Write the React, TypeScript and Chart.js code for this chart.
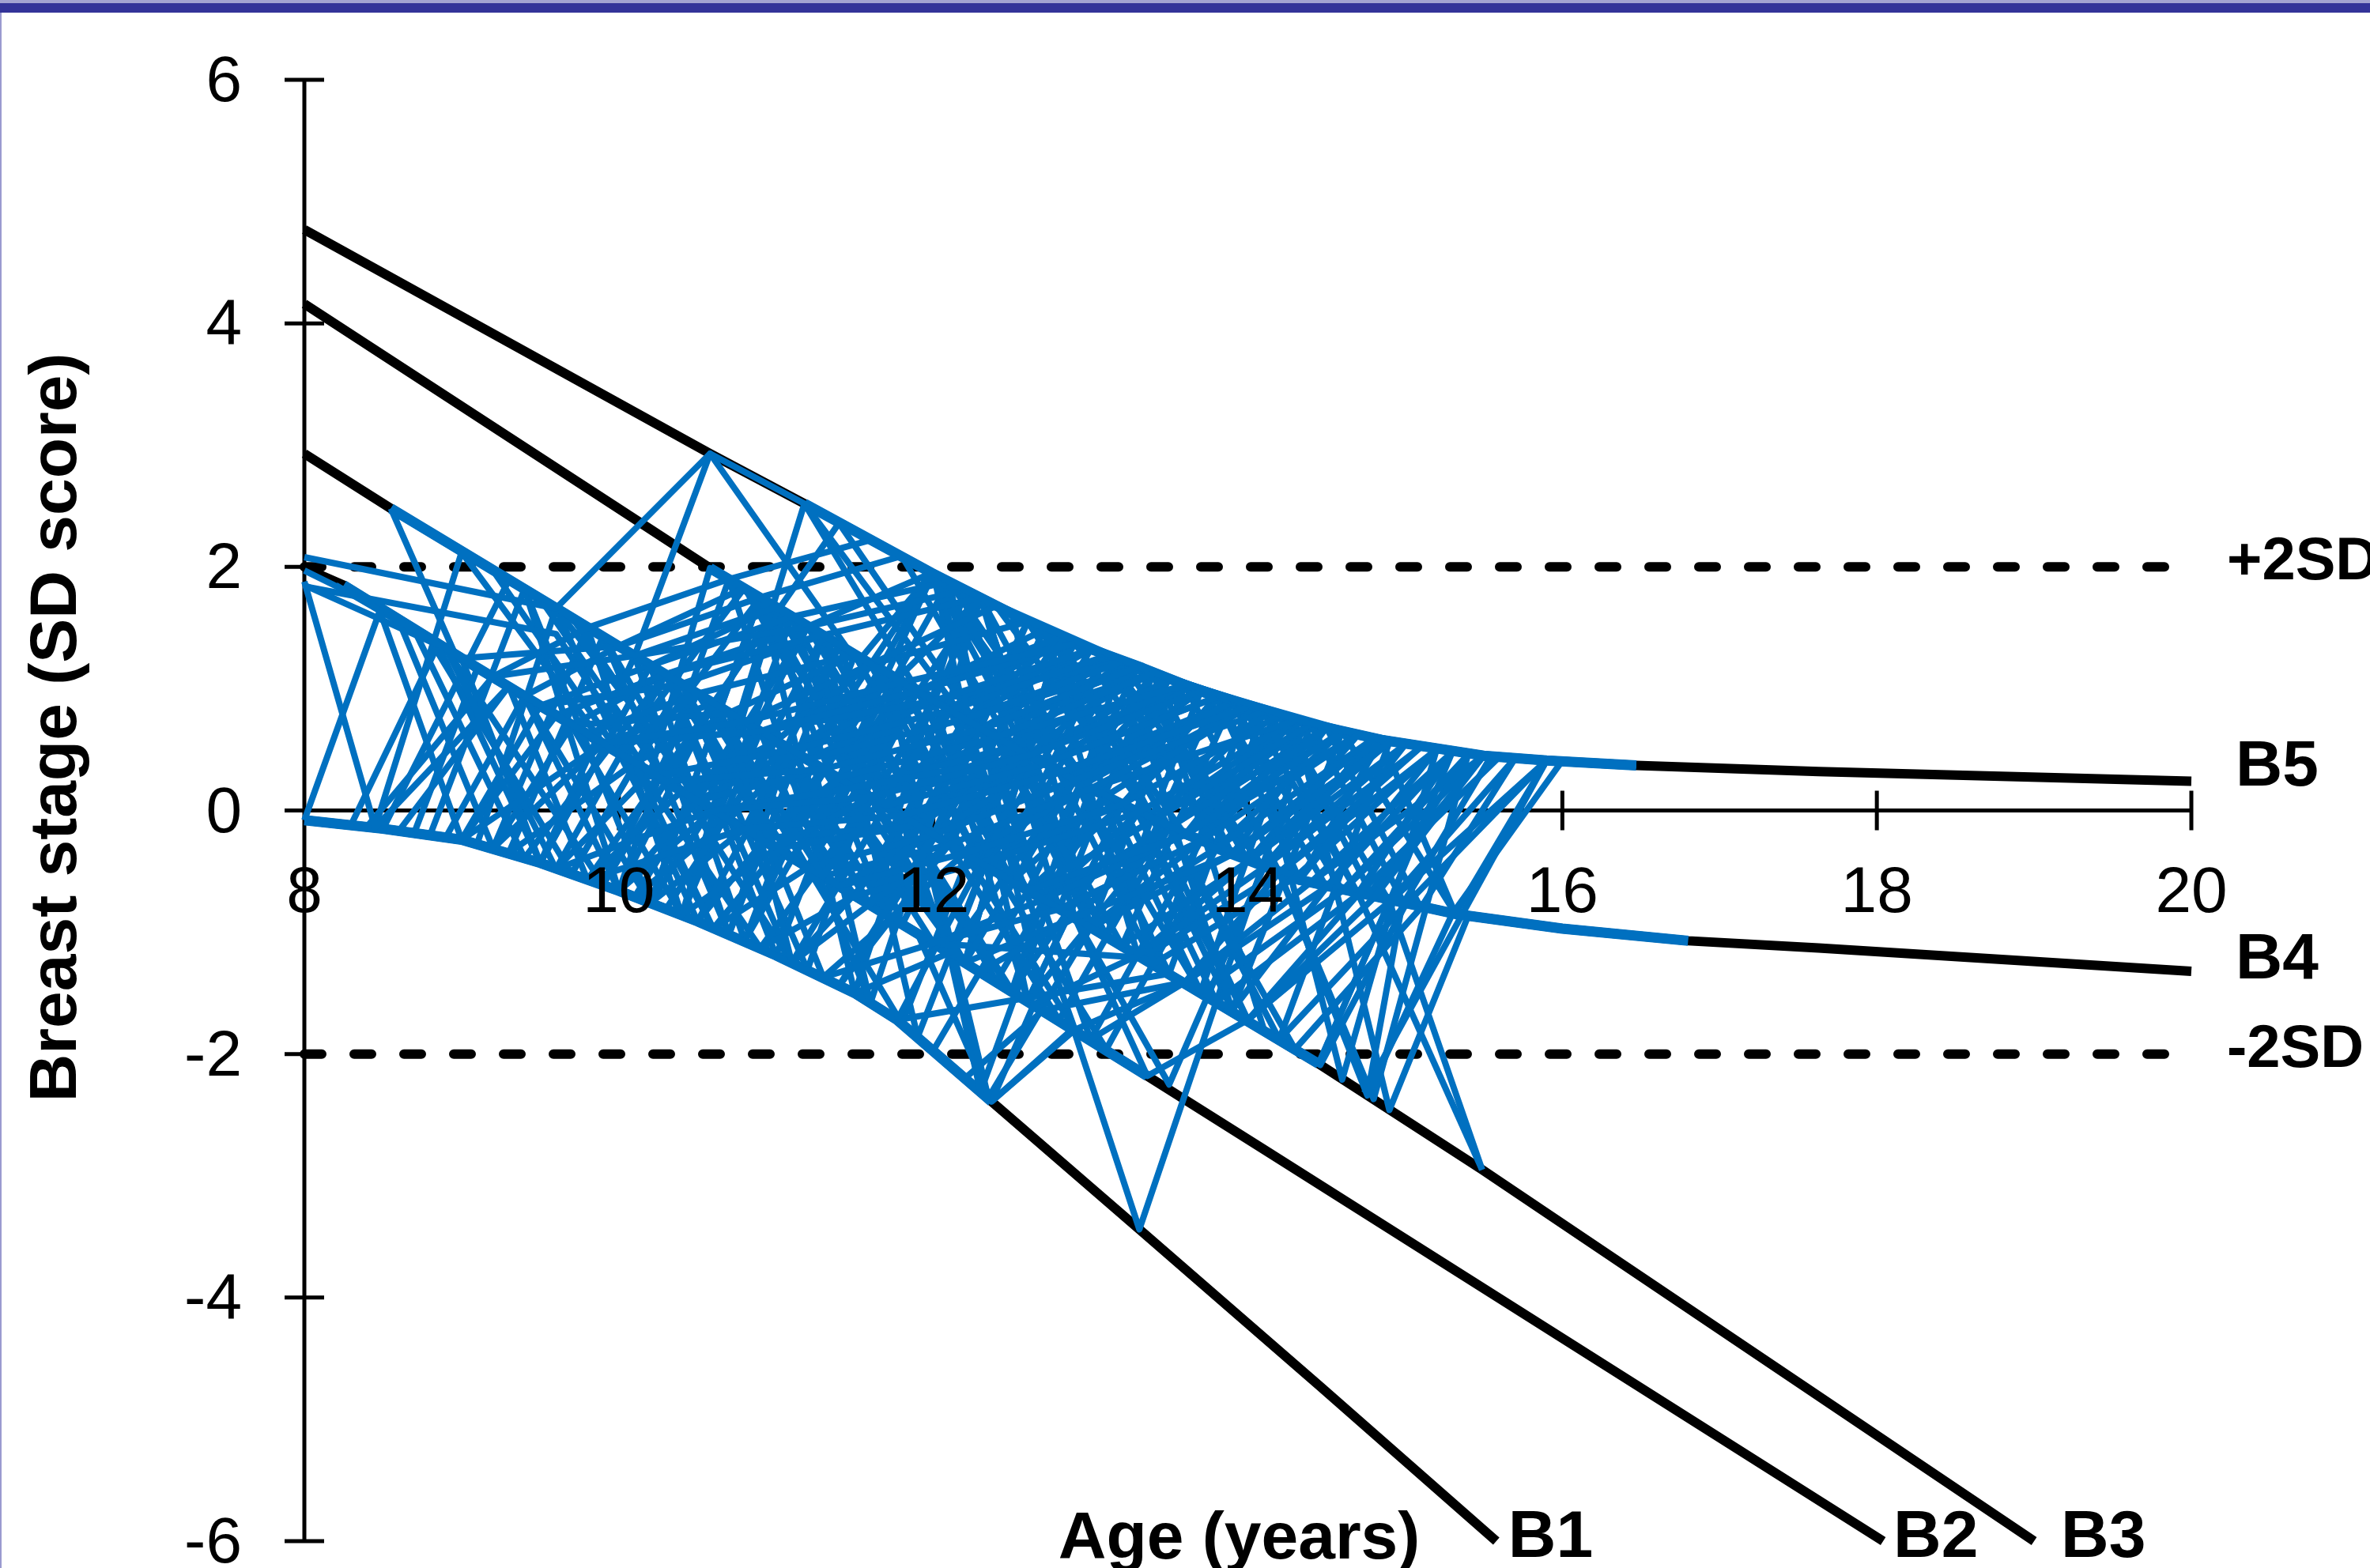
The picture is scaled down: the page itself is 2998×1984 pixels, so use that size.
import React, { useEffect, useRef } from "react";
import { Chart, registerables } from "chart.js";

Chart.register(...registerables);

// ---------- axes ----------
const xTicks = [8, 10, 12, 14, 16, 18, 20];
const yTicks = [-6, -4, -2, 0, 2, 4, 6];
const xTitle = "Age (years)";
const yTitle = "Breast stage (SD score)";

// ---------- reference SD lines ----------
const sdLevels = [2, -2];
const sdLabels = ["+2SD", "-2SD"];

// ---------- breast stage curves (age, SD score) ----------
const stageNames = ["B1", "B2", "B3", "B4", "B5"];
const stageB1 = [[8, -0.08], [8.5, -0.15], [9, -0.24], [9.5, -0.43], [10, -0.66], [10.5, -0.91], [11, -1.19], [11.5, -1.5], [11.77, -1.72], [12.37, -2.39], [13.31, -3.44], [14.46, -4.73], [15.58, -6]];
const stageB2 = [[8, 1.99], [8.25, 1.85], [9, 1.25], [10, 0.47], [11, -0.31], [12, -1.09], [13.36, -2.18], [14.11, -2.79], [18.04, -6]];
const stageB3 = [[8, 2.93], [8.55, 2.48], [9.59, 1.67], [10.1, 1.27], [11, 0.57], [12, -0.2], [13, -0.96], [14.45, -2.08], [15.49, -2.95], [19, -6]];
const stageB4 = [[8, 4.16], [10.58, 1.99], [11.09, 1.6], [11.54, 1.25], [12.21, 0.76], [13, 0.18], [13.5, -0.14], [14.33, -0.57], [15.32, -0.85], [16, -0.97], [16.8, -1.07], [17.63, -1.13], [20, -1.32]];
const stageB5 = [[8, 4.77], [10.58, 2.93], [11.18, 2.52], [11.99, 1.95], [12.8, 1.42], [13.33, 1.17], [13.8, 0.93], [14.3, 0.74], [14.85, 0.58], [15.5, 0.45], [15.9, 0.41], [16.47, 0.37], [17.63, 0.32], [20, 0.24]];
const stageCurves = [stageB1, stageB2, stageB3, stageB4, stageB5];

// ---------- individual girls (age, SD score) ----------
const earlyGirls = [
  [[8, 2.08], [9.6, 1.66], [10.58, 2.93], [11.47, 1.3], [12.4, 0.6], [13.4, 1.13], [14.4, 0.71]],
  [[8, 1.88], [8.45, -0.14], [9.3, 1.02], [10.3, 0.24], [11.3, 0.34], [12.3, 0.67], [13.3, 1.18]],
  [[8, -0.08], [8.48, 1.64], [9, -0.24], [9.9, 0.55], [10.8, 0.73], [11.8, 1.05], [12.9, 1.37]],
  [[8, 1.97], [8.3, 1.78], [9.2, 1.1], [9.8, 1.5], [10.7, 1.9], [11.6, 2.22], [12.5, 1.61], [13.5, 1.08]],
  [[8.55, 2.48], [8.96, 1.28], [9.9, 0.55], [10.9, 0.65], [11.9, 0.98], [12.9, 1.37]],
  [[8.55, 2.48], [9.59, 1.67], [10.1, 1.27], [11, 1.67], [12, 0.9], [13, 1.32]],
  [[8, 1.85], [8.9, 1.33], [9.6, -0.48], [10.6, 0], [11.6, 0.11], [12.6, 0.45], [13.7, 0.98]],
  [[8.3, -0.11], [8.85, 1.36], [9.5, -0.43], [10.2, 1.19], [11.2, 0.42], [12.2, 0.75], [13.2, 1.22]],
  [[8.4, -0.13], [9.2, 1.1], [10, 0.47], [10.5, 0.96], [11.5, 1.28], [12.7, 0.38], [13.8, 0.93]],
  [[8.6, -0.17], [9.3, 1.02], [9.8, -0.57], [10.8, -0.15], [11.8, -0.04], [12.8, 0.31], [14, 0.85]],
  [[8.5, -0.15], [9.3, 1.89], [10.3, 1.12], [11.3, 1.44], [12.3, 1.75], [13.3, 1.18]],
  [[8.2, 1.85], [9.2, 1.1], [10.1, 1.27], [11.2, 1.51], [12.2, 1.81], [13.1, 1.27]],
  [[8, 1.84], [9.6, 1.45], [10.2, 0.28], [11.1, 0.5], [12.1, 0.82], [13.1, 1.27]],
  [[8.9, -0.22], [9.4, 0.94], [10, -0.66], [10.6, 0.88], [11.3, -0.54], [12.1, 0.83], [13, 1.32]],
  [[8.45, -0.14], [9, 2.12], [9.9, 0.55], [10.9, 0.65], [12, 0.9], [13.2, 1.22]],
  [[8.7, -0.18], [9.1, 1.17], [10.1, 0.39], [10.6, -0.97], [11.4, 0.27], [12.4, 0.6], [13.6, 1.03]],
  [[9, -0.24], [9.5, 0.86], [10.4, 1.04], [11, -0.31], [11.9, 0.98], [12.9, 0.25], [14.1, 0.81]],
  [[9.1, -0.27], [9.6, 1.66], [10.6, 0], [11.5, 0.19], [12.6, 0.45], [13.6, 1.03], [14.6, 0.65]],
  [[9.2, -0.31], [9.7, 0.7], [10.7, 0.8], [11.1, -1.25], [12.1, -0.28], [13, 0.18], [14, 0.85]],
  [[9.3, -0.35], [9.9, 1.43], [10.9, 0.65], [11.9, 0.98], [12.9, 1.37], [13.9, 0.89]],
  [[9, 1.25], [10, 1.35], [10.8, 1.83], [11.7, 0.04], [12.7, 0.38], [13.8, 0.93]],
  [[9.4, -0.39], [10, -0.66], [10.6, 0], [11.4, -0.62], [12.2, -0.35], [13.2, 0.05], [14.2, 0.78]],
  [[9.5, -0.43], [10.2, 1.19], [11.1, 1.59], [12.1, 1.88], [13, 0.18], [14.3, 0.74]],
  [[9.6, -0.48], [10.2, 0.31], [11, -0.31], [11.6, 0.11], [12.6, -0.66], [13.6, -0.2], [14.6, 0.65]],
  [[9.7, -0.52], [10.4, 1.04], [11.3, 1.44], [12.2, 0.75], [13.3, 1.18], [14.2, 0.77]],
];

const midGirls = [
  [[10, -0.66], [10.5, 0.08], [11.3, 0.34], [12, -1.09], [12.8, -0.81], [13.7, -0.25], [14.7, 0.62]],
  [[10.1, -0.71], [10.8, 0.73], [11.6, 1.2], [12.3, -0.43], [13.3, -0.02], [14.3, 0.74]],
  [[10.2, -0.76], [10.8, -0.15], [11.4, 1.36], [12.4, 0.6], [13.4, 1.13], [14.4, 0.71]],
  [[10.3, -0.81], [11, 0.57], [11.8, -0.04], [12.8, 0.31], [13.8, -0.31], [14.8, 0.59]],
  [[10.4, -0.86], [11, -0.31], [11.9, -0.12], [12.9, -0.88], [13.9, -0.36], [14.9, 0.56]],
  [[10.5, -0.91], [11.1, 0.49], [11.9, 0.98], [12.7, 1.48], [13.6, -0.2], [14.5, 0.68]],
  [[10.6, -0.97], [11.2, -0.47], [12, -0.2], [12.9, 0.25], [13.7, -1.49], [14.6, -0.66], [15.4, 0.46]],
  [[10.7, -1.02], [11.3, -1.37], [12, -1.09], [12.7, -0.73], [13.6, -0.2], [14.7, 0.62]],
  [[10.8, -1.07], [11.3, 0.34], [12.2, -1.25], [12.9, 0.25], [13.9, 0.89], [14.9, 0.56]],
  [[10.9, -1.13], [11.5, -0.7], [12.3, -0.43], [13.2, 0.05], [14.2, -0.51], [15.1, 0.52]],
  [[10.2, 0.31], [10.58, 1.99], [11.6, 1.2], [12.4, 1.68], [13.4, -0.08], [14.4, 0.71]],
  [[10.1, 1.27], [10.58, 2.93], [11.18, 2.52], [12.2, 0.75], [13, 1.32], [14, 0.85]],
  [[10.76, 0.76], [11.18, 2.52], [11.9, 0.98], [12.8, 1.42], [13.8, 0.93]],
  [[11.54, 1.25], [11.99, 1.95], [12.6, 0.45], [13.3, 1.18], [14.3, 0.74]],
  [[11.1, 0.49], [11.77, 1.08], [12.3, 1.75], [12.95, 0.21], [13.6, 1.03]],
  [[11.2, 0.42], [11.99, 1.95], [12.95, 0.21], [13.9, 0.89], [14.9, 0.56]],
  [[11.09, 1.6], [12.21, 0.76], [12.8, 1.42], [13.5, -0.14], [14.5, 0.68]],
  [[11.6, -0.78], [12.1, 0.83], [12.8, 1.42], [13.4, -1.26], [14.3, -0.55], [15.2, 0.5]],
  [[11.4, -1.44], [12, -0.2], [12.6, 1.55], [13.4, -0.08], [14.1, 0.81], [15, 0.54]],
  [[11.5, -1.5], [12.1, -1.17], [12.6, 0.45], [13.5, -0.14], [14.4, 0.71]],
  [[11.77, -1.72], [12.3, -0.43], [13.2, -1.11], [14, -0.42], [15, 0.54]],
  [[12, -1.97], [12.6, -0.66], [13.4, -0.08], [14.4, -0.59], [15.3, 0.48]],
  [[12.37, -2.39], [12.9, -1.8], [13.6, -1.41], [14.4, -0.59], [15.5, 0.45]],
  [[12.37, -2.39], [12.64, -1.59], [13.3, -1.19], [14.1, -0.47], [15.1, 0.52]],
  [[11.9, -1.01], [12.37, -2.39], [12.89, -1.79], [13.31, -3.44], [13.8, -1.57], [14.7, -0.69], [15.6, 0.44]],
  [[12.3, -1.32], [12.9, -0.88], [13.36, -2.18], [14, -1.72], [14.9, -0.75], [15.9, 0.41]],
  [[12.5, -0.58], [13.2, -1.11], [13.9, -1.64], [14.46, -2.09], [15, -0.78], [15.9, 0.41]],
  [[13, -1.88], [13.6, -1.41], [14.2, -0.51], [14.76, -2.34], [15.3, -0.85], [16, 0.41]],
  [[13.9, -1.64], [14.45, -2.08], [14.9, -0.75], [15.49, -2.95]],
  [[12, -1.09], [13.33, -1.21], [14.2, -0.51], [15.2, 0.5]],
  [[11.77, -1.72], [13.5, -1.34], [14.2, -1.88], [15, -0.78]],
  [[12.2, -2.2], [12.7, -1.64], [13.6, -1.41], [14.5, -0.63], [15.3, 0.48]],
  [[12.5, -1.48], [13.3, -0.02], [14, -1.72], [14.8, -0.72], [15.5, 0.45]],
  [[11.8, -0.94], [12.6, -1.56], [13.5, -0.14], [14.3, -1.96], [15.1, -0.8]],
];

const coreGirls = [
  [[9.8, 0.63], [10.5, 0.96], [11.5, 0.19], [12.5, 0.52], [13.5, -0.14], [14.5, 0.68]],
  [[10, 0.47], [10.9, -0.23], [11.9, -0.12], [12.6, 0.45], [13.5, 1.08], [14.6, 0.65]],
  [[9.9, -0.61], [10.6, 0.88], [11.6, 0.11], [12.3, 0.67], [13.4, -0.08], [14.3, 0.74]],
  [[10.4, 0.16], [11.2, 0.42], [12, 0.9], [13.1, 0.12], [14, 0.85]],
  [[10.7, -0.07], [11.3, 1.44], [12, -0.2], [12.7, 0.38], [13.6, 1.03], [14.8, 0.59]],
  [[10.1, -0.71], [10.7, -0.07], [11.7, 1.13], [12.8, 0.31], [13.9, 0.89]],
  [[10.9, -0.23], [11.4, 0.27], [12.4, -0.5], [13.2, 1.22], [14.1, -0.47], [15, 0.54]],
  [[10.7, 0.8], [11.5, 1.28], [12.2, -0.35], [13, 0.18], [14, -0.42], [14.9, 0.56]],
  [[11.1, -0.39], [11.8, 1.05], [12.5, 0.52], [13.1, -1.03], [13.7, 0.98], [14.7, 0.62]],
  [[10.3, 0.24], [11.3, -0.54], [12.1, -0.28], [12.9, 1.37], [13.9, -0.36], [14.9, 0.56]],
  [[10.4, -0.86], [10.9, 0.65], [11.8, 1.05], [12.9, 0.25], [13.7, 0.98]],
  [[9.6, 0.78], [10.3, 1.12], [11.2, 1.51], [12.3, 0.67], [13.3, 1.18], [14.3, 0.74]],
  [[9.8, -0.57], [10.4, 0.16], [11, 0.57], [11.6, 1.2], [12.6, 1.55], [13.6, 1.03]],
  [[11.4, -0.62], [12, -0.2], [12.8, -0.81], [13.7, -0.25], [14.5, 0.68], [15.4, 0.46]],
  [[11.6, 0.11], [12.3, 0.67], [13.1, 1.27], [13.8, -0.31], [14.6, 0.65]],
  [[10.8, -0.15], [11.7, -0.86], [12.4, 0.6], [13, -0.96], [13.9, -0.36], [14.8, 0.59]],
  [[11.9, -0.12], [12.6, 0.45], [13.6, -0.2], [14.3, 0.74], [15, 0.54]],
  [[12.4, -0.5], [13.1, 1.27], [14.1, -0.47], [14.8, 0.59]],
  [[12.6, -0.66], [13.2, 0.05], [13.9, 0.89], [14.6, -0.66], [15.5, 0.45]],
  [[12.9, 0.25], [13.4, 1.13], [14, -0.42], [14.85, 0.58]],
  [[13, -0.96], [13.7, -0.25], [14.2, 0.78], [14.9, -0.75], [15.7, 0.43]],
  [[13.2, 0.05], [13.8, 0.93], [14.33, -0.57], [15, 0.54]],
  [[13.4, -1.26], [14, 0.85], [14.7, -0.68], [15.3, 0.48]],
  [[13.5, -0.14], [14.3, 0.74], [14.9, -2.46], [15.4, -0.87]],
  [[12, -0.2], [12.9, 0.25], [13.5, 1.08], [14.5, 0.68]],
  [[9.4, 0.94], [10, 1.35], [10.9, 1.75], [11.8, 2.09], [12.5, 0.52], [13.2, 1.22]],
  [[9.2, -0.31], [9.9, 0.55], [10.6, 0.88], [11.4, 2.36], [12.3, 0.67], [13.4, 1.13]],
  [[10.6, 0], [11.2, 1.51], [11.99, 1.95], [12.8, 0.31], [13.9, 0.89]],
  [[10.2, 1.19], [11, 1.67], [11.8, -0.04], [12.7, 0.38], [13.6, 1.03]],
  [[9, -0.24], [9.6, 0.78], [10.6, 0], [11.6, 0.11], [12.4, 0.6], [13.4, -0.08], [14.4, 0.71]],
];

const denseGirls = [
  [[9.1, 1.17], [9.7, 0.7], [10.3, 1.12], [11.1, -0.39], [11.9, 0.98], [12.8, 0.31]],
  [[9.3, 1.02], [10.1, 0.39], [10.7, 0.8], [11.5, -0.7], [12.2, 0.75], [13.1, 0.12]],
  [[8.9, 1.33], [9.9, -0.61], [10.5, 0.96], [11.4, 0.27], [12.3, -0.43], [13.1, 1.27]],
  [[9.5, 1.74], [10.3, 0.24], [11, 1.67], [11.7, 0.04], [12.5, 0.52], [13.4, 1.13]],
  [[9.7, 1.59], [10.5, 0.08], [11.2, 1.51], [12, -0.2], [12.8, 1.42]],
  [[8.8, -0.2], [9.4, 1.82], [10.2, -0.76], [10.9, 1.75], [11.7, -0.86], [12.4, 0.6]],
  [[9.9, 1.43], [10.7, -1.02], [11.4, 1.36], [12.1, -1.17], [12.9, 0.25]],
  [[10, 0.47], [10.8, 1.83], [11.5, 0.19], [12.3, 1.75], [13, -0.96]],
  [[9.3, -0.35], [10.1, 0.39], [10.9, -1.13], [11.6, 0.11], [12.5, -1.48], [13.3, -0.02]],
  [[9.6, 1.66], [10.5, -0.91], [11.3, 0.34], [12, 1.95], [12.7, -0.73], [13.5, -0.14]],
  [[8.7, 1.48], [9.4, -0.39], [10.3, 1.12], [11.1, -1.25], [11.9, -0.12], [12.6, 1.55]],
  [[9.8, -0.57], [10.6, 0.88], [11.3, -1.37], [12.2, -0.35], [13, 1.32]],
  [[10.3, 1.12], [11, -1.19], [11.7, 1.13], [12.35, -2.36], [13, -0.96], [13.8, -0.31]],
  [[10.5, 0.96], [11.2, -0.47], [11.9, 0.98], [12.6, -0.66], [13.3, 1.18], [14, -0.42]],
  [[10.9, 0.65], [11.6, -0.78], [12.3, 0.67], [13, -1.88], [13.7, -0.25], [14.4, 0.71]],
  [[11.2, -0.47], [11.8, -1.75], [12.5, 0.52], [13.2, -1.11], [13.9, 0.89], [14.6, -0.66]],
  [[11.5, 0.19], [12.2, -1.25], [12.9, -0.88], [13.5, -2.25], [14.1, -0.47], [14.8, 0.59]],
  [[11.8, -0.04], [12.5, -1.48], [13.2, 1.22], [13.9, -1.64], [14.5, -0.63], [15.2, 0.5]],
  [[12.1, -0.28], [12.8, -1.72], [13.5, -0.14], [14.2, -1.88], [14.9, 0.56]],
  [[12.7, -0.73], [13.3, -0.02], [13.9, -1.64], [14.6, 0.65], [15.32, -0.85]],
  [[9.4, 0.94], [10.2, -0.76], [10.9, 0.65], [11.6, -1.58], [12.2, 0.75], [12.9, -1.8]],
];

const extraGirls = [
  [[9, 1.25], [9.5, -0.43], [10.1, 1.27], [10.7, -1.02], [11.3, 1.44], [11.9, -1.86], [12.6, 0.45]],
  [[8.8, 1.4], [9.7, -0.52], [10.4, 1.04], [11.2, -1.31], [11.8, 1.05], [12.5, -0.58]],
  [[9.2, 1.97], [10, 0.47], [10.6, -0.97], [11.4, 0.27], [12.1, 1.88], [12.7, -1.64]],
  [[9.5, 0.86], [10.2, 1.19], [10.8, -1.07], [11.5, 1.28], [12.2, -0.35], [12.9, -1.8]],
  [[9.7, 0.7], [10.4, -0.86], [11.1, 1.59], [11.8, -0.04], [12.4, -1.4], [13.1, 0.12]],
  [[10.1, 0.39], [10.9, 1.75], [11.5, -1.5], [12.1, 0.83], [12.7, -0.73], [13.5, 1.08]],
  [[10.4, 0.16], [11.1, -1.25], [11.7, 0.04], [12.3, 1.75], [13, -0.96], [13.6, -1.41]],
  [[10.6, 0.88], [11.2, -0.47], [11.8, 1.05], [12.4, -0.5], [13.1, -1.96], [13.8, -0.31]],
  [[9.9, 1.43], [10.5, 0.08], [11.1, 0.49], [11.7, -0.86], [12.3, 1.75], [12.9, -0.88], [13.5, -0.14]],
  [[10.8, -1.07], [11.4, 0.27], [12, 1.95], [12.6, -1.56], [13.2, 0.05], [13.8, 0.93]],
  [[11, 0.57], [11.6, -0.78], [12.2, 1.81], [12.8, -0.81], [13.4, 1.13], [14.1, -1.79]],
  [[11.3, -0.54], [11.9, 0.98], [12.5, -0.58], [13.1, 0.12], [13.7, -1.49], [14.3, 0.74]],
  [[11.7, 1.13], [12.3, -0.43], [12.9, 0.25], [13.5, -1.34], [14.1, 0.81], [14.7, -0.69]],
  [[12, 0.9], [12.6, -1.56], [13.2, 0.05], [13.8, -1.57], [14.4, 0.71], [15, -0.78]],
  [[12.5, 1.61], [13, -0.96], [13.6, 1.03], [14.2, -0.51], [14.8, -2.37], [15.4, 0.46]],
  [[12.8, 0.31], [13.4, -1.26], [14, 0.85], [14.6, -2.21], [15.2, 0.5]],
  [[13.3, 1.18], [13.9, -0.36], [14.5, 0.68], [15.1, -0.8], [15.7, 0.43]],
  [[13.6, -0.2], [14.2, 0.78], [14.8, -0.72], [15.4, 0.46]],
  [[8.6, 1.56], [9.2, -0.31], [9.8, 1.5], [10.4, -0.86], [11, 1.67], [11.6, -1.58]],
  [[9.4, 1.82], [10, -0.66], [10.7, 1.9], [11.3, -0.54], [12, 0.9], [12.7, 0.38]],
  [[9.6, -0.48], [10.3, 1.12], [11, -0.31], [11.7, 1.13], [12.3, -2.31], [13, 0.18]],
  [[10.2, -0.76], [10.9, 1.75], [11.6, 0.11], [12.2, -1.25], [12.8, 1.42]],
  [[11.1, 1.59], [11.8, -0.94], [12.4, 0.6], [13.1, -1.03], [13.8, 0.93], [14.5, -0.63]],
  [[11.4, -1.44], [12.1, -0.28], [12.7, 1.48], [13.3, -1.19], [14, -0.42], [14.7, 0.62]],
  [[12.2, -1.25], [12.8, 1.42], [13.4, -0.08], [14, -1.72], [14.7, -0.69], [15.3, 0.48]],
];

const lateGirls = [
  [[14.33, -0.57], [14.85, 0.58], [15.32, -0.85], [15.9, 0.41], [16.47, 0.37]],
  [[14.74, -2.32], [15.9, 0.41]],
  [[14.76, -0.7], [15.5, 0.45], [16.47, 0.37]],
  [[14.7, -0.68], [15.49, -2.95]],
  [[14.76, -2.34], [14.98, -0.78], [15.55, 0.45]],
  [[14.45, -2.08], [14.9, -0.75], [15.3, 0.48]],
];

// girls who stayed in one stage across visits: their path runs along a stage curve
const envelopeGirls = [
  [[10.58, 1.99], [11.09, 1.6], [11.54, 1.25], [12.21, 0.76], [13, 0.18], [13.5, -0.14], [14.33, -0.57]],
  [[8.55, 2.48], [9.59, 1.67], [10.1, 1.27], [11, 0.57], [12, -0.2], [13, -0.96], [14.45, -2.08]],
  [[8.25, 1.85], [9, 1.25], [10, 0.47], [11, -0.31], [12, -1.09], [13.36, -2.18]],
  [[13.8, -0.31], [14.33, -0.57], [15.32, -0.85], [16, -0.97], [16.8, -1.07]],
  [[11.18, 2.52], [11.99, 1.95], [12.8, 1.42], [13.33, 1.17], [13.8, 0.93], [14.3, 0.74], [14.85, 0.58], [15.5, 0.45], [15.9, 0.41], [16.47, 0.37]],
  [[8, -0.08], [8.5, -0.15], [9, -0.24], [9.5, -0.43], [10, -0.66], [10.5, -0.91], [11, -1.19], [11.5, -1.5], [11.77, -1.72], [12.37, -2.39]],
];

// ---------- styling ----------
const FONT = '"Liberation Sans", Arial, Helvetica, sans-serif';
const BLUE = "#0070C0";
const TICK = 25;

const toXY = (pts: number[][]) => pts.map(([x, y]) => ({ x, y }));

const overlayPlugin = {
  id: "overlay",
  beforeDatasetsDraw(chart: any) {
    const { ctx } = chart;
    const xs = chart.scales.x;
    const ys = chart.scales.y;
    const ax = xs.getPixelForValue(xTicks[0]);
    const ay = ys.getPixelForValue(0);
    ctx.save();
    ctx.strokeStyle = "#000";
    ctx.lineWidth = 5;
    ctx.lineCap = "butt";
    ctx.beginPath();
    ctx.moveTo(ax, ys.getPixelForValue(yTicks[yTicks.length - 1]));
    ctx.lineTo(ax, ys.getPixelForValue(yTicks[0]));
    yTicks.forEach((t) => {
      const p = ys.getPixelForValue(t);
      ctx.moveTo(ax - TICK, p);
      ctx.lineTo(ax + TICK, p);
    });
    ctx.moveTo(ax, ay);
    ctx.lineTo(xs.getPixelForValue(xTicks[xTicks.length - 1]), ay);
    xTicks.forEach((t, i) => {
      if (i === 0) return;
      const p = xs.getPixelForValue(t);
      ctx.moveTo(p, ay - TICK);
      ctx.lineTo(p, ay + TICK);
    });
    ctx.stroke();
    ctx.restore();
  },
  afterDatasetsDraw(chart: any) {
    const { ctx, width, height } = chart;
    const xs = chart.scales.x;
    const ys = chart.scales.y;
    const ax = xs.getPixelForValue(xTicks[0]);
    const ay = ys.getPixelForValue(0);
    const xEnd = xs.getPixelForValue(xTicks[xTicks.length - 1]);
    ctx.save();
    ctx.fillStyle = "#000";
    // tick labels
    ctx.font = `82px ${FONT}`;
    ctx.textBaseline = "alphabetic";
    ctx.textAlign = "right";
    yTicks.forEach((t) => {
      ctx.fillText(String(t), ax - 79, ys.getPixelForValue(t) + 27);
    });
    ctx.textAlign = "center";
    xTicks.forEach((t) => {
      ctx.fillText(String(t), xs.getPixelForValue(t), ay + 128);
    });
    // SD labels
    ctx.font = `bold 76px ${FONT}`;
    ctx.textAlign = "left";
    sdLevels.forEach((v, i) => {
      ctx.fillText(sdLabels[i], xEnd + 45, ys.getPixelForValue(v) + 16);
    });
    // stage labels
    ctx.font = `bold 82px ${FONT}`;
    ctx.fillText(stageNames[4], xEnd + 56, ys.getPixelForValue(stageB5[stageB5.length - 1][1]) + 5);
    ctx.fillText(stageNames[3], xEnd + 56, ys.getPixelForValue(stageB4[stageB4.length - 1][1]) + 9);
    const bottom = ys.getPixelForValue(yTicks[0]);
    ctx.font = `bold 84px ${FONT}`;
    ctx.fillText(stageNames[0], xs.getPixelForValue(stageB1[stageB1.length - 1][0]) + 15, bottom + 20);
    ctx.fillText(stageNames[1], xs.getPixelForValue(stageB2[stageB2.length - 1][0]) + 13, bottom + 20);
    ctx.fillText(stageNames[2], xs.getPixelForValue(stageB3[stageB3.length - 1][0]) + 34, bottom + 20);
    // axis titles
    ctx.textAlign = "center";
    ctx.fillText(xTitle, xs.getPixelForValue(14) - 11, bottom + 22);
    ctx.save();
    ctx.translate(ax - 289, ay - 105);
    ctx.rotate(-Math.PI / 2);
    ctx.textAlign = "center";
    ctx.textBaseline = "alphabetic";
    ctx.fillText(yTitle, 0, 0);
    ctx.restore();
    // slide frame
    ctx.fillStyle = "#a3a3d1";
    ctx.fillRect(0, 0, width, 4);
    ctx.fillStyle = "#333399";
    ctx.fillRect(0, 4, width, 12);
    ctx.fillStyle = "#9a9ad0";
    ctx.fillRect(0, 16, 2, height - 16);
    ctx.restore();
  },
};

export default function App() {
  const canvasRef = useRef<HTMLCanvasElement | null>(null);

  useEffect(() => {
    const canvas = canvasRef.current;
    if (!canvas) return;

    const girls = [...earlyGirls, ...midGirls, ...coreGirls, ...denseGirls, ...extraGirls, ...lateGirls];
    const blueLine = (pts: number[][], i: number, width: number) => ({
      label: `girl ${i + 1}`,
      data: toXY(pts),
      showLine: true,
      borderColor: BLUE,
      backgroundColor: BLUE,
      borderWidth: width,
      borderJoinStyle: "round",
      pointRadius: 0,
      tension: 0,
      fill: false,
      clip: false,
      order: 1,
    });
    const blueSets = girls.map((pts, i) => blueLine(pts, i, 8));
    const envelopeSets = envelopeGirls.map((pts, i) => blueLine(pts, girls.length + i, 13));
    const stageSets = stageCurves.map((pts, i) => ({
      label: stageNames[i],
      data: toXY(pts),
      showLine: true,
      borderColor: "#000",
      backgroundColor: "#000",
      borderWidth: 12,
      borderJoinStyle: "round",
      pointRadius: 0,
      tension: 0,
      fill: false,
      clip: false,
      order: 5,
    }));
    const sdSets = sdLevels.map((v, i) => ({
      label: sdLabels[i],
      data: [
        { x: xTicks[0], y: v },
        { x: xTicks[xTicks.length - 1], y: v },
      ],
      showLine: true,
      borderColor: "#000",
      borderWidth: 12,
      borderDash: [22, 41],
      borderCapStyle: "round",
      pointRadius: 0,
      fill: false,
      clip: false,
      order: 6,
    }));

    const chart = new Chart(canvas, {
      type: "scatter",
      data: { datasets: [...blueSets, ...envelopeSets, ...stageSets, ...sdSets] as any },
      options: {
        animation: false,
        responsive: true,
        maintainAspectRatio: false,
        events: [],
        layout: { padding: { left: 385, right: 226, top: 101, bottom: 34 } },
        plugins: { legend: { display: false }, tooltip: { enabled: false } },
        scales: {
          x: { type: "linear", min: xTicks[0], max: xTicks[xTicks.length - 1], display: false },
          y: { type: "linear", min: yTicks[0], max: yTicks[yTicks.length - 1], display: false },
        },
      },
      plugins: [overlayPlugin],
    });
    return () => chart.destroy();
  }, []);

  return (
    <div style={{ position: "fixed", left: 0, top: 0, width: "100vw", height: "100vh", background: "#fff" }}>
      <canvas ref={canvasRef} />
    </div>
  );
}
